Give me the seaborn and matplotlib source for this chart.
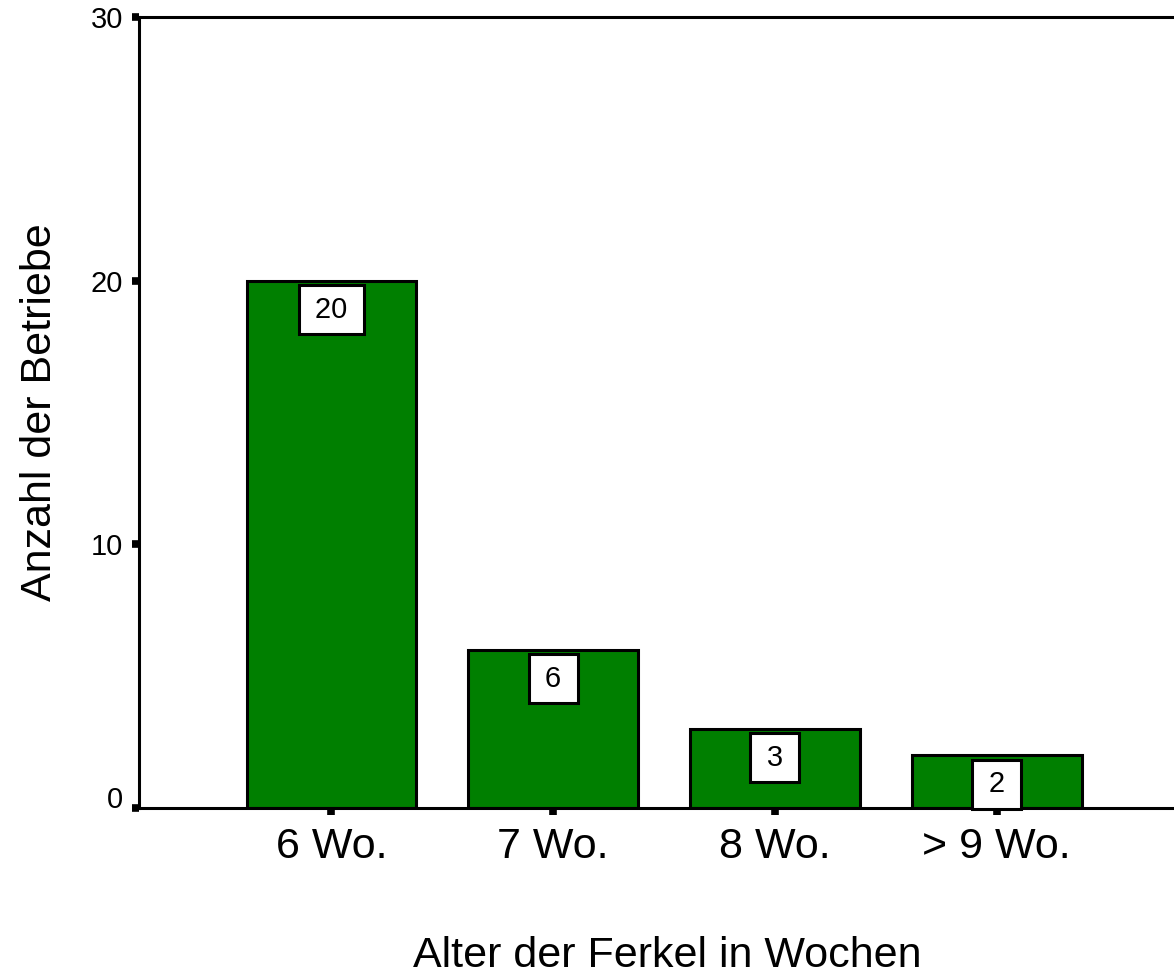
import matplotlib
matplotlib.use("Agg")
import matplotlib.pyplot as plt
import matplotlib.transforms as mtransforms
import seaborn as sns
import pandas as pd

categories = ["6 Wo.", "7 Wo.", "8 Wo.", "> 9 Wo."]
counts = [20, 6, 3, 2]
y_ticks = [0, 10, 20, 30]

sns.set_theme(style="white")
plt.rcParams["font.family"] = ["Liberation Sans", "DejaVu Sans"]

df = pd.DataFrame({"cat": categories, "n": counts})

fig = plt.figure(figsize=(11.74, 9.76), dpi=100)
ax = fig.add_axes([0.1180, 0.1721, 0.901, 0.8105])

sns.barplot(data=df, x="cat", y="n", ax=ax, color="#007F00", saturation=1,
            edgecolor="black", linewidth=2.2, width=0.766)

ax.set_xlim(-0.87, 3.9)
ax.set_ylim(0, 30)
ax.set_yticks(y_ticks)
ax.set_yticklabels([str(t) for t in y_ticks])

for sp in ["left", "bottom", "top"]:
    ax.spines[sp].set_visible(True)
    ax.spines[sp].set_color("black")
    ax.spines[sp].set_linewidth(2.2)
ax.spines["right"].set_visible(False)

ax.tick_params(axis="y", which="major", left=True, direction="out", length=5,
               width=5.5, color="black", labelsize=21, pad=6, labelcolor="black")
ax.tick_params(axis="x", which="major", bottom=True, direction="out", length=5,
               width=5.5, color="black", labelsize=31, pad=9, labelcolor="black")

# shift "0" tick label slightly up
lbl0 = ax.get_yticklabels()[0]
lbl0.set_transform(lbl0.get_transform() + mtransforms.ScaledTranslation(0, 11 / 100, fig.dpi_scale_trans))

ax.set_xlabel("Alter der Ferkel in Wochen", fontsize=31, labelpad=49, color="black")
ax.set_ylabel("Anzahl der Betriebe", fontsize=31, labelpad=22, color="black")

for i, v in enumerate(counts):
    ax.annotate(f"\u2009{v}\u2009", xy=(i, v), xytext=(0, -15), textcoords="offset pixels",
                ha="center", va="top", fontsize=21, color="black",
                bbox=dict(boxstyle="square,pad=0.36", facecolor="white",
                          edgecolor="black", linewidth=2.2))

fig.savefig("out.png", dpi=100)
